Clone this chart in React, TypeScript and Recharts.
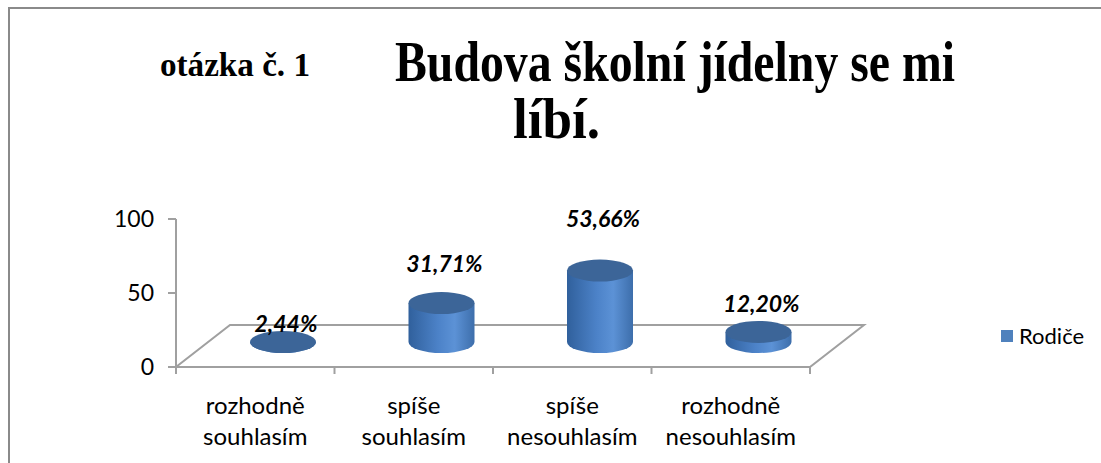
import { BarChart, Bar, XAxis, YAxis, LabelList, ReferenceArea } from 'recharts';

const categories = ['rozhodně souhlasím', 'spíše souhlasím', 'spíše nesouhlasím', 'rozhodně nesouhlasím'];
const rodice = [2.44, 31.71, 53.66, 12.2];
const valueLabels = ['2,44%', '31,71%', '53,66%', '12,20%'];
const yTicks = [0, 50, 100];
const seriesName = 'Rodiče';

const data = categories.map((name, i) => ({ name, value: rodice[i], label: valueLabels[i] }));

const GRAY = '#a0a0a0';
const SANS = 'Lato, "Open Sans", sans-serif';
const SERIF = '"Liberation Serif", "DejaVu Serif", serif';
// 3D depth offsets (Excel style perspective)
const DEPTH_X = 54;
const DEPTH_Y = 42;
const SHIFT_X = 28;

const Floor = (props: any) => {
  const { x, y, width, height } = props;
  const bottom = y + height;
  const pts = [
    [x, bottom],
    [x + width, bottom],
    [x + width + DEPTH_X, bottom - DEPTH_Y],
    [x + DEPTH_X, bottom - DEPTH_Y],
  ];
  return (
    <polygon
      points={pts.map((p) => p.join(',')).join(' ')}
      fill="none"
      stroke={GRAY}
      strokeWidth={2}
    />
  );
};

const Cylinder = (props: any) => {
  const { x, y, width, height, index } = props;
  const cx = x + width / 2 + SHIFT_X;
  const rx = width / 2;
  const ry = 11;
  const baseC = y + height - 25;
  const topC = Math.min(y - 17, baseC);
  const left = cx - rx;
  const right = cx + rx;
  const id = `cyl-grad-${index}`;
  return (
    <g>
      <defs>
        <linearGradient id={id} x1="0" y1="0" x2="1" y2="0">
          <stop offset="0%" stopColor="#30609c" />
          <stop offset="45%" stopColor="#4c82c8" />
          <stop offset="70%" stopColor="#5c92d6" />
          <stop offset="100%" stopColor="#3d6eab" />
        </linearGradient>
      </defs>
      <path
        d={`M${left},${topC} L${left},${baseC} A${rx},${ry} 0 0 0 ${right},${baseC} L${right},${topC} Z`}
        fill={`url(#${id})`}
      />
      <ellipse cx={cx} cy={topC} rx={rx} ry={ry} fill="#3c6598" />
    </g>
  );
};

const ValueLabel = (props: any) => {
  const { x, y, width, height, value } = props;
  const base = y + height;
  const ly = base - 39 - 1.385 * height;
  return (
    <text
      x={x + width / 2 + SHIFT_X + 3}
      y={ly}
      textAnchor="middle"
      dominantBaseline="central"
      fontFamily={SANS}
      fontStyle="italic"
      fontWeight="bold"
      fontSize={23}
      fill="#000"
    >
      {value}
    </text>
  );
};

const CategoryTick = (props: any) => {
  const { x, y, payload, index, width, visibleTicksCount } = props;
  const bw = width / visibleTicksCount;
  const lines = String(payload.value).split(' ');
  const axisY = y - 20;
  return (
    <g>
      <line x1={x - bw / 2} y1={axisY} x2={x - bw / 2} y2={axisY + 7} stroke={GRAY} strokeWidth={2} />
      {index === visibleTicksCount - 1 && (
        <line x1={x + bw / 2} y1={axisY} x2={x + bw / 2} y2={axisY + 7} stroke={GRAY} strokeWidth={2} />
      )}
      {lines.map((t, i) => (
        <text
          key={i}
          x={x}
          y={axisY + 37 + i * 31}
          textAnchor="middle"
          dominantBaseline="central"
          fontFamily={SANS}
          fontSize={24}
          fill="#000"
        >
          {t}
        </text>
      ))}
    </g>
  );
};

export default function App() {
  return (
    <div style={{ position: 'absolute', left: 0, top: 0, width: 1101, height: 463, background: '#fff', overflow: 'hidden' }}>
      <div
        style={{
          position: 'absolute',
          left: 8,
          top: 7,
          width: 1101,
          height: 463,
          borderTop: '2px solid #8a8a8a',
          borderLeft: '2px solid #8a8a8a',
        }}
      />
      <svg width={1101} height={463} style={{ position: 'absolute', left: 0, top: 0 }}>
        <text x={160} y={76} fontFamily={SERIF} fontWeight="bold" fontSize={34} textLength={150} lengthAdjust="spacingAndGlyphs">
          otázka č. 1
        </text>
        <text x={395} y={81} fontFamily={SERIF} fontWeight="bold" fontSize={56} textLength={560} lengthAdjust="spacingAndGlyphs">
          Budova školní jídelny se mi
        </text>
        <text x={513} y={138} fontFamily={SERIF} fontWeight="bold" fontSize={56} textLength={87} lengthAdjust="spacingAndGlyphs">
          líbí.
        </text>
      </svg>
      <div style={{ position: 'absolute', left: 0, top: 0 }}>
        <BarChart
          width={1101}
          height={463}
          data={data}
          margin={{ top: 219, right: 291, bottom: 36, left: 116 }}
          barSize={66}
        >
          <XAxis
            dataKey="name"
            height={60}
            axisLine={{ stroke: GRAY, strokeWidth: 2 }}
            tickLine={false}
            tickSize={0}
            tickMargin={20}
            interval={0}
            tick={<CategoryTick />}
          />
          <YAxis
            width={60}
            domain={[0, 100]}
            ticks={yTicks}
            axisLine={{ stroke: GRAY, strokeWidth: 2 }}
            tickLine={{ stroke: GRAY, strokeWidth: 2 }}
            tickSize={8}
            tickMargin={14}
            tick={{ fontFamily: SANS, fontSize: 23, fill: '#000' }}
          />
          <ReferenceArea
            x1={categories[0]}
            x2={categories[categories.length - 1]}
            y1={0}
            y2={100}
            shape={<Floor />}
          />
          <Bar dataKey="value" name={seriesName} fill="#4f81bd" shape={<Cylinder />} isAnimationActive={false}>
            <LabelList dataKey="label" content={<ValueLabel />} />
          </Bar>
        </BarChart>
      </div>
      <div
        style={{
          position: 'absolute',
          left: 1001,
          top: 322,
          display: 'flex',
          alignItems: 'center',
          fontFamily: SANS,
          fontSize: 22,
          color: '#000',
        }}
      >
        <span style={{ display: 'inline-block', width: 12, height: 12, background: '#4f81bd', marginRight: 6 }} />
        {seriesName}
      </div>
    </div>
  );
}
